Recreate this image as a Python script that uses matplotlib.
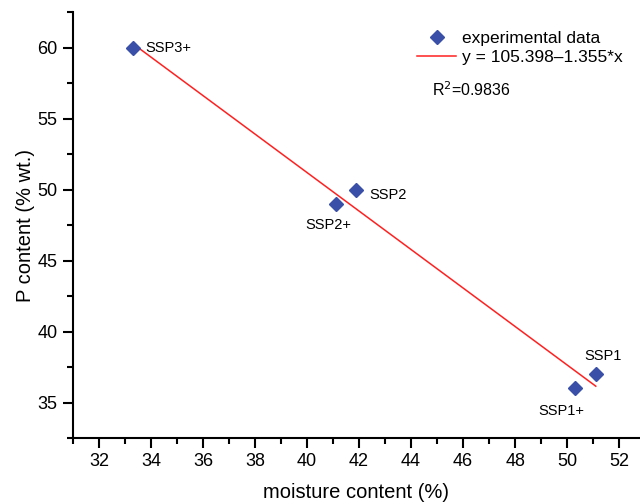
import numpy as np
import matplotlib
matplotlib.use("Agg")
from matplotlib import pyplot as plt
from matplotlib.ticker import MultipleLocator

plt.rcParams['font.family'] = ['Liberation Sans', 'DejaVu Sans']

# Sample measurements
samples = ['SSP3+', 'SSP2', 'SSP2+', 'SSP1', 'SSP1+']
moisture = [33.3, 41.9, 41.1, 51.1, 50.3]
p_content = [60.0, 50.0, 49.0, 37.0, 36.0]

# Linear fit reported for the series
intercept = 105.398
slope = -1.355
r_squared = 0.9836

fig = plt.figure(figsize=(6.4, 5.03), dpi=100)
ax = fig.add_axes([0.114, 0.129, 0.886, 0.847])

ax.plot(moisture, p_content, linestyle='none', marker='D', markersize=7,
        color='#3a4fa8', label='experimental data', zorder=3)

fit_x = np.array([min(moisture), max(moisture)])
ax.plot(fit_x, intercept + slope * fit_x, color='#ff2020', linewidth=1.1,
        label='y = 105.398\u20131.355*x', zorder=2)

# point labels
offsets = {'SSP3+': (9, 0, 'left', 'center'),
           'SSP2': (9, -4, 'left', 'center'),
           'SSP2+': (-5, -10, 'center', 'top'),
           'SSP1': (5, 8, 'center', 'bottom'),
           'SSP1+': (-10, -11, 'center', 'top')}
for name, x, y in zip(samples, moisture, p_content):
    dx, dy, ha, va = offsets[name]
    ax.annotate(name, (x, y), xytext=(dx, dy), textcoords='offset points',
                ha=ha, va=va, fontsize=10.5)

ax.set_xlim(31, 52.8)
ax.set_ylim(32.5, 62.5)
ax.xaxis.set_major_locator(MultipleLocator(2))
ax.xaxis.set_minor_locator(MultipleLocator(1))
ax.yaxis.set_major_locator(MultipleLocator(5))
ax.yaxis.set_minor_locator(MultipleLocator(2.5))
ax.tick_params(which='major', length=7, width=1.5, labelsize=13,
               direction='out', pad=4)
ax.tick_params(which='minor', length=4, width=1.5, direction='out')

for side in ['top', 'right']:
    ax.spines[side].set_visible(False)
for side in ['left', 'bottom']:
    ax.spines[side].set_linewidth(1.5)

ax.set_xlabel('moisture content (%)', fontsize=14.5, labelpad=9)
ax.set_ylabel('P content (% wt.)', fontsize=14.5, labelpad=2)

ax.legend(loc='upper left', bbox_to_anchor=(0.595, 0.972), frameon=False,
          fontsize=12.5, handlelength=2.25, handletextpad=0.3,
          labelspacing=0.2, borderaxespad=0)
ax.text(0.633, 0.817, 'R$^2$=0.9836', transform=ax.transAxes,
        fontsize=11.5, va='center', ha='left')

fig.savefig('out.png', dpi=100)
